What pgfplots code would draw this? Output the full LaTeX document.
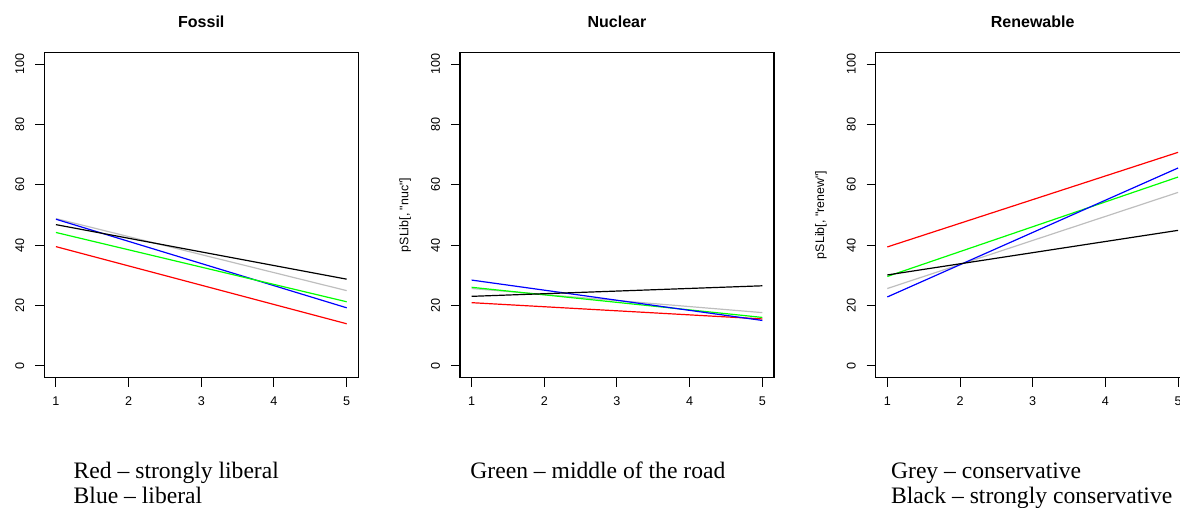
\documentclass[border=0pt]{standalone}
\usepackage{fontspec}
\setmainfont{Liberation Serif}
\newfontfamily\arial{Liberation Sans}
\usepackage{pgfplots}
\pgfplotsset{compat=1.18}
\definecolor{rred}{RGB}{255,0,0}
\definecolor{rblue}{RGB}{0,0,255}
\definecolor{rgreen}{RGB}{0,255,0}
\definecolor{rgrey}{RGB}{190,190,190}
\pgfplotsset{
  rpanel/.style={
    scale only axis,
    width=157pt, height=162.7pt,
    anchor=south west,
    xmin=0.84, xmax=5.16, ymin=-4, ymax=104,
    xtick={1,2,3,4,5}, ytick={0,20,40,60,80,100},
    xtick pos=bottom, ytick pos=left,
    tick align=outside,
    major tick length=4.5pt,
    every tick/.style={black, line width=0.5pt},
    axis line style={line width=0.55pt},
    /pgf/number format/assume math mode=true,
    ticklabel style={font=\arial\fontsize{6.3}{7}\selectfont},
    xticklabel style={anchor=north, inner sep=0pt},
    yticklabel style={rotate=90, anchor=south, inner sep=0pt},
    xticklabel shift=4.8pt,
    yticklabel shift=5.3pt,
    every axis title/.style={at={(axis description cs:0.5,1)}, anchor=base, yshift=12.5pt, inner sep=0pt, font=\arial\bfseries\fontsize{8}{9}\selectfont},
    every axis y label/.style={at={(axis description cs:0,0.5)}, anchor=base, xshift=-25.8pt, rotate=90, inner sep=0pt, font=\arial\fontsize{6.2}{7}\selectfont},
    clip=false,
  },
  rline/.style={line width=0.6pt, no marks},
}
\begin{document}
\begin{tikzpicture}
\begin{axis}[rpanel, at={(22.15pt,65.15pt)}, title={Fossil}]
\addplot[rline, rred] coordinates {(1,39.5) (5,13.9)};
\addplot[rline, rgrey] coordinates {(1,48.8) (5,24.9)};
\addplot[rline, rblue] coordinates {(1,48.6) (5,19.2)};
\addplot[rline, rgreen] coordinates {(1,44.2) (5,21.2)};
\addplot[rline, black] coordinates {(1,46.8) (5,28.7)};
\end{axis}
\begin{axis}[rpanel, at={(230pt,65.15pt)}, title={Nuclear}, ylabel={pSLib[, "nuc"]}]
\addplot[rline, rred] coordinates {(1,20.9) (5,15.5)};
\addplot[rline, rgrey] coordinates {(1,25.6) (5,17.6)};
\addplot[rline, rgreen] coordinates {(1,26.0) (5,16.0)};
\addplot[rline, rblue] coordinates {(1,28.4) (5,15.0)};
\addplot[rline, black] coordinates {(1,23.0) (5,26.5)};
\end{axis}
\begin{axis}[rpanel, at={(437.85pt,65.15pt)}, title={Renewable}, ylabel={pSLib[, "renew"]}]
\addplot[rline, rred] coordinates {(1,39.4) (5,70.8)};
\addplot[rline, rgrey] coordinates {(1,25.6) (5,57.5)};
\addplot[rline, rgreen] coordinates {(1,29.6) (5,62.6)};
\addplot[rline, rblue] coordinates {(1,22.8) (5,65.6)};
\addplot[rline, black] coordinates {(1,30.1) (5,44.9)};
\end{axis}
\begin{scope}[font=\fontsize{11.8}{13}\selectfont]
\node[anchor=base west, inner sep=0pt] at (36.65pt,14.85pt) {Red -- strongly liberal};
\node[anchor=base west, inner sep=0pt] at (36.65pt,2pt) {Blue -- liberal};
\node[anchor=base west, inner sep=0pt] at (235pt,14.85pt) {Green -- middle of the road};
\node[anchor=base west, inner sep=0pt] at (445.35pt,14.85pt) {Grey -- conservative};
\node[anchor=base west, inner sep=0pt] at (445.35pt,2pt) {Black -- strongly conservative};
\end{scope}
\pgfresetboundingbox
\useasboundingbox (0pt,0pt) rectangle (590pt,254pt);
\end{tikzpicture}
\end{document}
